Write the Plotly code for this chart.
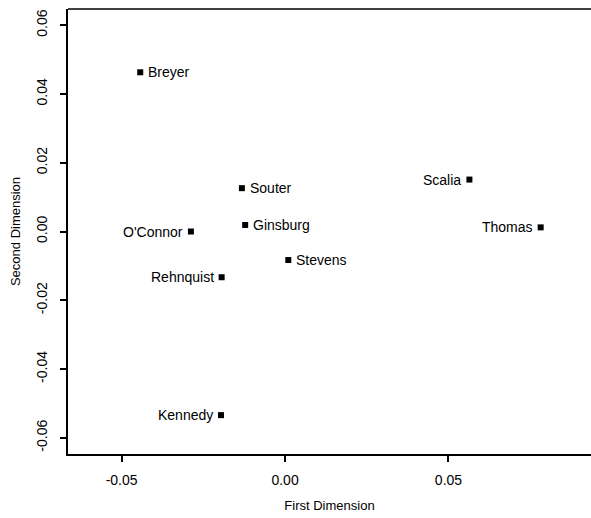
import plotly.graph_objects as go

justices = ["Breyer", "Souter", "Ginsburg", "Stevens", "O'Connor", "Rehnquist", "Kennedy", "Scalia", "Thomas"]
dim1 = [-0.0443, -0.0132, -0.0122, 0.0010, -0.0288, -0.0194, -0.0196, 0.0564, 0.0782]
dim2 = [0.0463, 0.0126, 0.0019, -0.0083, 0.0000, -0.0133, -0.0534, 0.0151, 0.0012]
label_side = ["right", "right", "right", "right", "left", "left", "left", "left", "left"]

x_ticks = [-0.05, 0.00, 0.05]
x_tick_text = ["-0.05", "0.00", "0.05"]
y_ticks = [-0.06, -0.04, -0.02, 0.00, 0.02, 0.04, 0.06]
y_tick_text = ["-0.06", "-0.04", "-0.02", "0.00", "0.02", "0.04", "0.06"]

FONT = "Liberation Sans, Arial, sans-serif"

fig = go.Figure()
fig.add_trace(go.Scatter(
    x=dim1, y=dim2, mode="markers",
    marker=dict(symbol="square", size=6, color="black", line=dict(width=0)),
    hoverinfo="skip", showlegend=False,
))

for name, xv, yv, side in zip(justices, dim1, dim2, label_side):
    fig.add_annotation(
        x=xv, y=yv, text=name, showarrow=False,
        xanchor="left" if side == "right" else "right",
        xshift=6 if side == "right" else -6,
        yanchor="middle",
        font=dict(family=FONT, size=14, color="black"),
    )

# top border of the plot box (right side falls outside the window)
fig.add_shape(type="line", xref="paper", yref="paper", x0=0, x1=1, y0=1, y1=1,
              line=dict(color="black", width=1.5))

fig.update_layout(
    width=591, height=518,
    margin=dict(l=68, r=0, t=9, b=64),
    paper_bgcolor="white", plot_bgcolor="white",
    font=dict(family=FONT, size=14, color="black"),
    xaxis=dict(
        range=[-0.0664, 0.0936], tickvals=x_ticks, ticktext=x_tick_text,
        showgrid=False, zeroline=False, showline=True, linecolor="black", linewidth=1.5,
        ticks="outside", ticklen=6, tickwidth=1.5, tickcolor="black",
        ticklabelstandoff=6,
        title=dict(text="First Dimension", standoff=14, font=dict(size=13)),
    ),
    yaxis=dict(
        range=[-0.0647, 0.0647], tickvals=y_ticks, ticktext=y_tick_text,
        showgrid=False, zeroline=False, showline=True, linecolor="black", linewidth=1.5,
        ticks="outside", ticklen=6, tickwidth=1.5, tickcolor="black",
        tickangle=-90, ticklabelstandoff=8,
        title=dict(text="Second Dimension", standoff=10, font=dict(size=13)),
    ),
)

fig.write_html("out.html")
